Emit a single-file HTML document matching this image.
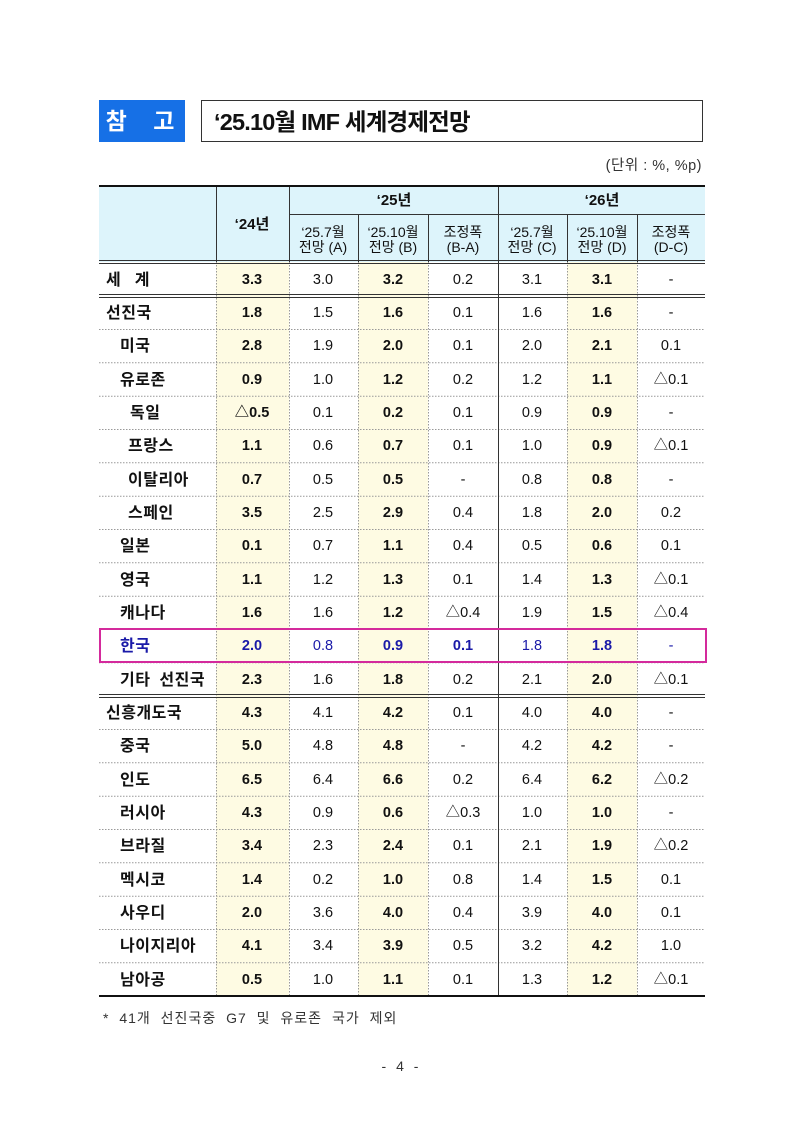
<!DOCTYPE html>
<html><head><meta charset="utf-8"><style>
body{margin:0;background:#fff;width:800px;height:1131px;overflow:hidden}
svg{display:block}
text{font-family:"Liberation Sans","Noto Sans CJK KR",sans-serif;font-size:14.5px;fill:#111}
.b{font-weight:bold}
.n text{text-anchor:middle}
.k{fill:#1a1aa8}
.lab text{font-size:16px;letter-spacing:0.5px}
</style></head><body>
<svg width="800" height="1131" viewBox="0 0 800 1131">
<rect x="99" y="100" width="86" height="42" fill="#1670e6"/>
<text x="145" y="129" style="font-size:23px;font-weight:bold;fill:#fff;text-anchor:middle;letter-spacing:10px">참 고</text>
<rect x="201.5" y="100.5" width="501" height="41" fill="#fff" stroke="#333" stroke-width="1"/>
<text x="214" y="130" style="font-size:23.5px;font-weight:bold;letter-spacing:-0.8px">‘25.10월 IMF 세계경제전망</text>
<text x="702" y="170" style="font-size:14.5px;text-anchor:end;fill:#333;letter-spacing:0.5px">(단위 : %, %p)</text>

<rect x="99" y="185" width="606" height="77" fill="#ddf4fb"/>
<rect x="216" y="262" width="73" height="734" fill="#fefbe3"/>
<rect x="358" y="262" width="70" height="734" fill="#fefbe3"/>
<rect x="567" y="262" width="70" height="734" fill="#fefbe3"/>

<g stroke="#999" stroke-width="1" stroke-dasharray="1.5,1.5">
<line x1="99" y1="329.5" x2="705" y2="329.5"/><line x1="99" y1="362.8" x2="705" y2="362.8"/>
<line x1="99" y1="396.2" x2="705" y2="396.2"/><line x1="99" y1="429.5" x2="705" y2="429.5"/>
<line x1="99" y1="462.8" x2="705" y2="462.8"/><line x1="99" y1="496.2" x2="705" y2="496.2"/>
<line x1="99" y1="529.5" x2="705" y2="529.5"/><line x1="99" y1="562.8" x2="705" y2="562.8"/>
<line x1="99" y1="596.2" x2="705" y2="596.2"/><line x1="99" y1="629.5" x2="705" y2="629.5"/>
<line x1="99" y1="662.8" x2="705" y2="662.8"/>
<line x1="99" y1="729.5" x2="705" y2="729.5"/><line x1="99" y1="762.8" x2="705" y2="762.8"/>
<line x1="99" y1="796.2" x2="705" y2="796.2"/><line x1="99" y1="829.5" x2="705" y2="829.5"/>
<line x1="99" y1="862.8" x2="705" y2="862.8"/><line x1="99" y1="896.2" x2="705" y2="896.2"/>
<line x1="99" y1="929.5" x2="705" y2="929.5"/><line x1="99" y1="962.8" x2="705" y2="962.8"/>
<line x1="216.5" y1="262" x2="216.5" y2="996"/><line x1="289.5" y1="262" x2="289.5" y2="996"/>
<line x1="358.5" y1="262" x2="358.5" y2="996"/><line x1="428.5" y1="262" x2="428.5" y2="996"/>
<line x1="567.5" y1="262" x2="567.5" y2="996"/><line x1="637.5" y1="262" x2="637.5" y2="996"/>
</g>
<g stroke="#333" stroke-width="1">
<line x1="216.5" y1="185" x2="216.5" y2="262"/><line x1="289.5" y1="185" x2="289.5" y2="262"/>
<line x1="358.5" y1="214" x2="358.5" y2="262"/><line x1="428.5" y1="214" x2="428.5" y2="262"/>
<line x1="567.5" y1="214" x2="567.5" y2="262"/><line x1="637.5" y1="214" x2="637.5" y2="262"/>
<line x1="498.5" y1="185" x2="498.5" y2="996"/>
<line x1="289" y1="214.5" x2="705" y2="214.5"/>
<line x1="99" y1="260.5" x2="705" y2="260.5"/><line x1="99" y1="263.5" x2="705" y2="263.5"/>
<line x1="99" y1="294.5" x2="705" y2="294.5"/><line x1="99" y1="297.5" x2="705" y2="297.5"/>
<line x1="99" y1="694.5" x2="705" y2="694.5"/><line x1="99" y1="697.5" x2="705" y2="697.5"/>
</g>
<line x1="99" y1="186" x2="705" y2="186" stroke="#111" stroke-width="2"/>
<line x1="99" y1="996" x2="705" y2="996" stroke="#111" stroke-width="2"/>

<g class="b n">
<text x="252" y="229" style="font-size:15px">‘24년</text>
<text x="394" y="205" style="font-size:15px">‘25년</text>
<text x="602" y="205" style="font-size:15px">‘26년</text>
</g>
<g class="n">
<text x="323" y="237" style="font-size:14px">‘25.7월</text><text x="323" y="252" style="font-size:14px">전망 (A)</text>
<text x="393" y="237" style="font-size:14px">‘25.10월</text><text x="393" y="252" style="font-size:14px">전망 (B)</text>
<text x="463" y="237" style="font-size:14px">조정폭</text><text x="463" y="252" style="font-size:14px">(B-A)</text>
<text x="532" y="237" style="font-size:14px">‘25.7월</text><text x="532" y="252" style="font-size:14px">전망 (C)</text>
<text x="602" y="237" style="font-size:14px">‘25.10월</text><text x="602" y="252" style="font-size:14px">전망 (D)</text>
<text x="671" y="237" style="font-size:14px">조정폭</text><text x="671" y="252" style="font-size:14px">(D-C)</text>
</g>

<g class="b lab">
<text x="106" y="285" style="letter-spacing:14px">세계</text>
<text x="106" y="318">선진국</text>
<text x="120" y="351">미국</text>
<text x="120" y="385">유로존</text>
<text x="130" y="418">독일</text>
<text x="128" y="451">프랑스</text>
<text x="128" y="485">이탈리아</text>
<text x="128" y="518">스페인</text>
<text x="120" y="551">일본</text>
<text x="120" y="585">영국</text>
<text x="120" y="618">캐나다</text>
<text x="120" y="651" class="k">한국</text>
<text x="120" y="685" style="word-spacing:4px">기타 선진국</text>
<text x="106" y="718">신흥개도국</text>
<text x="120" y="751">중국</text>
<text x="120" y="785">인도</text>
<text x="120" y="818">러시아</text>
<text x="120" y="851">브라질</text>
<text x="120" y="885">멕시코</text>
<text x="120" y="918">사우디</text>
<text x="120" y="951">나이지리아</text>
<text x="120" y="985">남아공</text>
</g>

<g class="n">
<g class="b">
<text x="252" y="284">3.3</text><text x="393" y="284">3.2</text><text x="602" y="284">3.1</text>
<text x="252" y="317">1.8</text><text x="393" y="317">1.6</text><text x="602" y="317">1.6</text>
<text x="252" y="350">2.8</text><text x="393" y="350">2.0</text><text x="602" y="350">2.1</text>
<text x="252" y="384">0.9</text><text x="393" y="384">1.2</text><text x="602" y="384">1.1</text>
<text x="252" y="417">△0.5</text><text x="393" y="417">0.2</text><text x="602" y="417">0.9</text>
<text x="252" y="450">1.1</text><text x="393" y="450">0.7</text><text x="602" y="450">0.9</text>
<text x="252" y="484">0.7</text><text x="393" y="484">0.5</text><text x="602" y="484">0.8</text>
<text x="252" y="517">3.5</text><text x="393" y="517">2.9</text><text x="602" y="517">2.0</text>
<text x="252" y="550">0.1</text><text x="393" y="550">1.1</text><text x="602" y="550">0.6</text>
<text x="252" y="584">1.1</text><text x="393" y="584">1.3</text><text x="602" y="584">1.3</text>
<text x="252" y="617">1.6</text><text x="393" y="617">1.2</text><text x="602" y="617">1.5</text>
<text x="252" y="650" class="k">2.0</text><text x="393" y="650" class="k">0.9</text><text x="463" y="650" class="k">0.1</text><text x="602" y="650" class="k">1.8</text>
<text x="252" y="684">2.3</text><text x="393" y="684">1.8</text><text x="602" y="684">2.0</text>
<text x="252" y="717">4.3</text><text x="393" y="717">4.2</text><text x="602" y="717">4.0</text>
<text x="252" y="750">5.0</text><text x="393" y="750">4.8</text><text x="602" y="750">4.2</text>
<text x="252" y="784">6.5</text><text x="393" y="784">6.6</text><text x="602" y="784">6.2</text>
<text x="252" y="817">4.3</text><text x="393" y="817">0.6</text><text x="602" y="817">1.0</text>
<text x="252" y="850">3.4</text><text x="393" y="850">2.4</text><text x="602" y="850">1.9</text>
<text x="252" y="884">1.4</text><text x="393" y="884">1.0</text><text x="602" y="884">1.5</text>
<text x="252" y="917">2.0</text><text x="393" y="917">4.0</text><text x="602" y="917">4.0</text>
<text x="252" y="950">4.1</text><text x="393" y="950">3.9</text><text x="602" y="950">4.2</text>
<text x="252" y="984">0.5</text><text x="393" y="984">1.1</text><text x="602" y="984">1.2</text>
</g>
<text x="323" y="284">3.0</text><text x="463" y="284">0.2</text><text x="532" y="284">3.1</text><text x="671" y="284">-</text>
<text x="323" y="317">1.5</text><text x="463" y="317">0.1</text><text x="532" y="317">1.6</text><text x="671" y="317">-</text>
<text x="323" y="350">1.9</text><text x="463" y="350">0.1</text><text x="532" y="350">2.0</text><text x="671" y="350">0.1</text>
<text x="323" y="384">1.0</text><text x="463" y="384">0.2</text><text x="532" y="384">1.2</text><text x="671" y="384">△0.1</text>
<text x="323" y="417">0.1</text><text x="463" y="417">0.1</text><text x="532" y="417">0.9</text><text x="671" y="417">-</text>
<text x="323" y="450">0.6</text><text x="463" y="450">0.1</text><text x="532" y="450">1.0</text><text x="671" y="450">△0.1</text>
<text x="323" y="484">0.5</text><text x="463" y="484">-</text><text x="532" y="484">0.8</text><text x="671" y="484">-</text>
<text x="323" y="517">2.5</text><text x="463" y="517">0.4</text><text x="532" y="517">1.8</text><text x="671" y="517">0.2</text>
<text x="323" y="550">0.7</text><text x="463" y="550">0.4</text><text x="532" y="550">0.5</text><text x="671" y="550">0.1</text>
<text x="323" y="584">1.2</text><text x="463" y="584">0.1</text><text x="532" y="584">1.4</text><text x="671" y="584">△0.1</text>
<text x="323" y="617">1.6</text><text x="463" y="617">△0.4</text><text x="532" y="617">1.9</text><text x="671" y="617">△0.4</text>
<text x="323" y="650" class="k">0.8</text><text x="532" y="650" class="k">1.8</text><text x="671" y="650" class="k">-</text>
<text x="323" y="684">1.6</text><text x="463" y="684">0.2</text><text x="532" y="684">2.1</text><text x="671" y="684">△0.1</text>
<text x="323" y="717">4.1</text><text x="463" y="717">0.1</text><text x="532" y="717">4.0</text><text x="671" y="717">-</text>
<text x="323" y="750">4.8</text><text x="463" y="750">-</text><text x="532" y="750">4.2</text><text x="671" y="750">-</text>
<text x="323" y="784">6.4</text><text x="463" y="784">0.2</text><text x="532" y="784">6.4</text><text x="671" y="784">△0.2</text>
<text x="323" y="817">0.9</text><text x="463" y="817">△0.3</text><text x="532" y="817">1.0</text><text x="671" y="817">-</text>
<text x="323" y="850">2.3</text><text x="463" y="850">0.1</text><text x="532" y="850">2.1</text><text x="671" y="850">△0.2</text>
<text x="323" y="884">0.2</text><text x="463" y="884">0.8</text><text x="532" y="884">1.4</text><text x="671" y="884">0.1</text>
<text x="323" y="917">3.6</text><text x="463" y="917">0.4</text><text x="532" y="917">3.9</text><text x="671" y="917">0.1</text>
<text x="323" y="950">3.4</text><text x="463" y="950">0.5</text><text x="532" y="950">3.2</text><text x="671" y="950">1.0</text>
<text x="323" y="984">1.0</text><text x="463" y="984">0.1</text><text x="532" y="984">1.3</text><text x="671" y="984">△0.1</text>
</g>

<rect x="100" y="629" width="606" height="33" fill="none" stroke="#d42a9c" stroke-width="2"/>

<text x="103" y="1023" style="font-size:14px;fill:#333;letter-spacing:1px;word-spacing:5px">* 41개 선진국중 G7 및 유로존 국가 제외</text>
<text x="400" y="1071" style="font-size:14px;fill:#333;text-anchor:middle;word-spacing:6px">- 4 -</text>
</svg>
</body></html>
